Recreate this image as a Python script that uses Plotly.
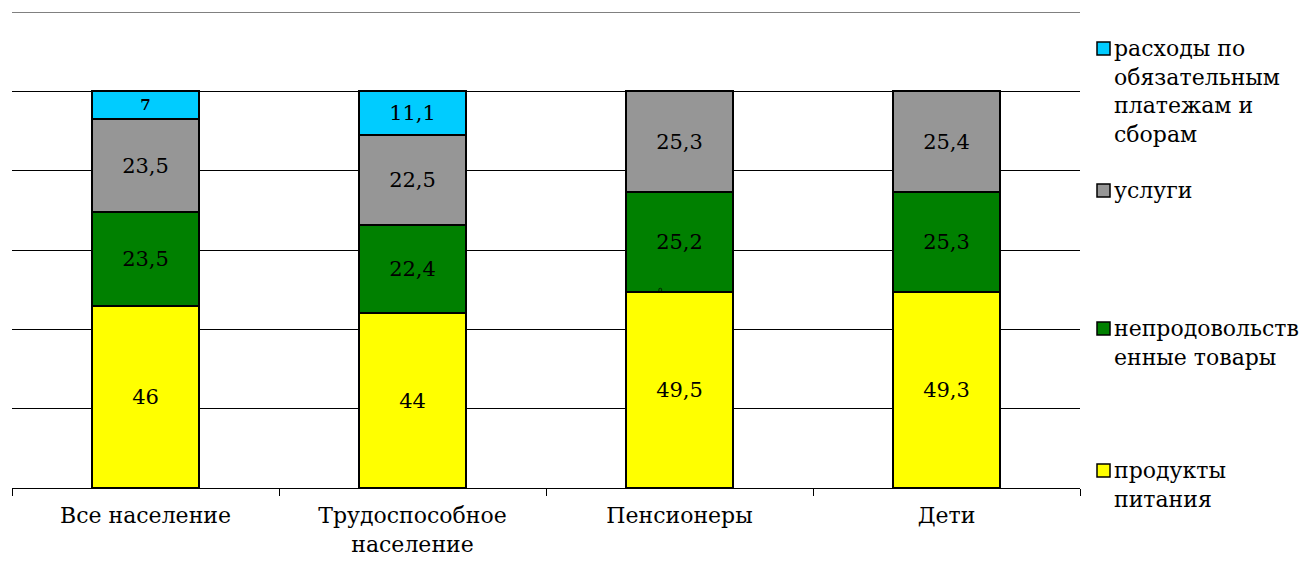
import plotly.graph_objects as go

categories = ["Все население", "Трудоспособное<br>население", "Пенсионеры", "Дети"]
food = [46, 44, 49.5, 49.3]
nonfood = [23.5, 22.4, 25.2, 25.3]
services = [23.5, 22.5, 25.3, 25.4]
payments = [7, 11.1, 0, 0]

series_names = ["продукты питания", "непродовольственные товары", "услуги",
                "расходы по обязательным платежам и сборам"]
legend_labels = ["продукты<br>питания", "непродовольств<br>енные товары", "услуги",
                 "расходы по<br>обязательным<br>платежам и<br>сборам"]
colors = ["#FFFF00", "#008000", "#969696", "#00CCFF"]

FONT = "DejaVu Serif"


def fmt(v):
    if v == 0:
        return ""
    return ("%g" % v).replace(".", ",")


fig = go.Figure()
for name, vals, col in zip(series_names, [food, nonfood, services, payments], colors):
    texts = [fmt(v) for v in vals]
    if vals is payments:
        texts[0] = "<b><span style='font-size:15px'>" + texts[0] + "</span></b>"
    fig.add_trace(go.Bar(
        x=categories, y=vals, name=name, text=texts,
        textposition="inside", insidetextanchor="middle",
        textfont=dict(family=FONT, size=21, color="black"),
        marker=dict(color=col, line=dict(color="black", width=2)),
        width=0.4, showlegend=False, cliponaxis=False,
    ))

# tiny zero label seen at the pensioners bar
fig.add_annotation(x=categories[2], y=food[2], text="0", showarrow=False,
                   xshift=-20, yshift=1, font=dict(family=FONT, size=7, color="black"))

# page has an 8px body margin: plot area in page px = 12..1080 x, 12..488 y
fig.update_layout(
    barmode="stack",
    width=1300, height=557,
    margin=dict(l=4, r=228, t=4, b=77),
    plot_bgcolor="white", paper_bgcolor="white",
    font=dict(family=FONT, size=22, color="black"),
)
fig.update_xaxes(
    showline=True, linecolor="black", linewidth=1,
    ticks="outside", tickson="boundaries", ticklen=7, tickcolor="black",
    tickfont=dict(family=FONT, size=22, color="black"),
    showgrid=False, ticklabelstandoff=8,
)
fig.update_yaxes(
    range=[0, 120], dtick=20, showgrid=True, gridcolor="black", gridwidth=1,
    showticklabels=False, showline=False, zeroline=False, ticks="",
)
fig.add_shape(type="line", xref="paper", yref="y", x0=0, x1=1, y0=120, y1=120,
              line=dict(color="#808080", width=2))

# manual legend (Excel-like spacing), coordinates in page pixels
pl, pr, pt, pb = 12, 1080, 12, 488
def px(x):
    return (x - pl) / (pr - pl)
def py(y):
    return (pb - y) / (pb - pt)

legend_rows = [(3, 34), (2, 176), (1, 314), (0, 456)]
for idx, top in legend_rows:
    fig.add_shape(type="rect", xref="paper", yref="paper",
                  x0=px(1097), x1=px(1110), y0=py(top + 8), y1=py(top + 21),
                  line=dict(color="black", width=1.5), fillcolor=colors[idx])
    fig.add_annotation(xref="paper", yref="paper", x=px(1112), y=py(top),
                       xanchor="left", yanchor="top", align="left", showarrow=False,
                       text=legend_labels[idx],
                       font=dict(family=FONT, size=22, color="black"))

fig.write_html("out.html")
